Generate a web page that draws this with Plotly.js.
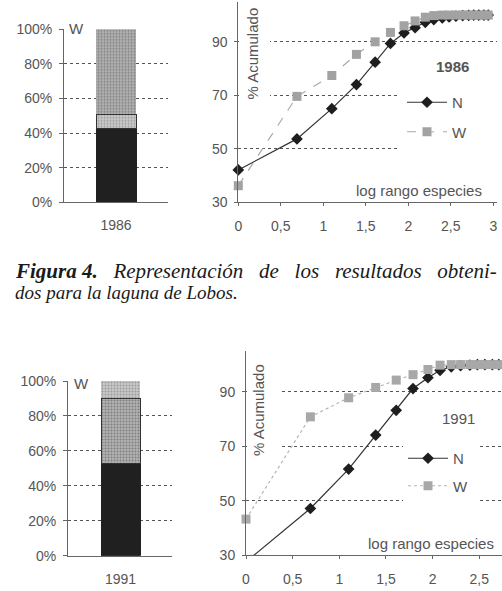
<!DOCTYPE html>
<html><head><meta charset="utf-8">
<script src="https://cdn.plot.ly/plotly-3.0.1.min.js"></script>
<style>html,body{margin:0;padding:0;background:#fff}#g{width:502px;height:591px}</style>
</head><body><div id="g"></div>
<script>
// ---- data ----
const barCat1986 = ['1986'];
const barCat1991 = ['1991'];
const segN1986 = [42.8];
const segMid1986 = [8.1];
const segW1986 = [49.1];
const segN1991 = [52.5];
const segMid1991 = [37.6];
const segW1991 = [9.9];

const logRank1986 = [0, 0.69, 1.10, 1.39, 1.61, 1.79, 1.95, 2.08, 2.20, 2.30, 2.40, 2.48, 2.56, 2.64, 2.71, 2.77, 2.83, 2.89, 2.94];
const cumN1986 = [42.1, 53.7, 65.0, 74.0, 82.4, 89.4, 93.3, 95.3, 97.3, 98.3, 98.9, 99.3, 99.6, 99.8, 99.9, 100, 100, 100, 100];
const cumW1986 = [36.2, 69.6, 77.4, 85.3, 90.0, 93.5, 96.0, 97.8, 99.2, 99.8, 100, 100, 100, 100, 100, 100, 100, 100, 100];

const logRank1991 = [0, 0.69, 1.10, 1.39, 1.61, 1.79, 1.95, 2.08, 2.20, 2.30, 2.40, 2.48, 2.56, 2.64, 2.71, 2.77];
const cumN1991 = [27.5, 47.1, 61.6, 74.1, 83.2, 91.2, 95.2, 97.9, 99.2, 99.6, 99.8, 100, 100, 100, 100, 100];
const cumW1991 = [43.2, 80.8, 87.8, 91.6, 94.3, 96.3, 98.2, 99.8, 100, 100, 100, 100, 100, 100, 100, 100];

const barTicks = [0, 20, 40, 60, 80, 100];
const barTickText = ['0%', '20%', '40%', '60%', '80%', '100%'];
const lineYTicks = [30, 50, 70, 90];
const lineXTicks = [0, 0.5, 1, 1.5, 2, 2.5, 3];
const lineXTickText = ['0', '0,5', '1', '1,5', '2', '2,5', '3'];

// ---- helpers (pixel -> paper) ----
const W = 502, H = 591;
const px = v => v / W;
const py = v => 1 - v / H;

const TXT = '#555';
const FONT = 'Liberation Sans, Arial, sans-serif';
const AX = '#666';
const GRID = '#555';

const traces = [
  // bar 1986
  {type:'bar', x:barCat1986, y:segN1986, xaxis:'x', yaxis:'y', width:1, showlegend:false,
   marker:{color:'#202020', line:{color:'#202020', width:1}}, name:'N'},
  {type:'bar', x:barCat1986, y:segMid1986, xaxis:'x', yaxis:'y', width:1, showlegend:false,
   marker:{color:'#c6c6c6', line:{color:'#333', width:1}, pattern:{shape:'.', fgcolor:'#9a9a9a', bgcolor:'#cacaca', size:3, solidity:0.3}}, name:'N+W'},
  {type:'bar', x:barCat1986, y:segW1986, xaxis:'x', yaxis:'y', width:1, showlegend:false,
   marker:{color:'#a8a8a8', line:{color:'#a8a8a8', width:0}, pattern:{shape:'.', fgcolor:'#808080', bgcolor:'#b2b2b2', size:3, solidity:0.35}}, name:'W'},
  // line 1986
  {type:'scatter', mode:'lines+markers', x:logRank1986, y:cumN1986, xaxis:'x2', yaxis:'y2', name:'N',
   legend:'legend', legendgroup:'n86', cliponaxis:false,
   line:{color:'#333', width:1.2}, marker:{symbol:'diamond', size:9, color:'#1e1e1e'}},
  {type:'scatter', mode:'lines+markers', x:logRank1986, y:cumW1986, xaxis:'x2', yaxis:'y2', name:'W',
   legend:'legend', legendgroup:'w86', cliponaxis:false,
   line:{color:'#aaa', width:1.2, dash:'dash'}, marker:{symbol:'square', size:9, color:'#a2a2a2'}},
  // bar 1991
  {type:'bar', x:barCat1991, y:segN1991, xaxis:'x3', yaxis:'y3', width:1, showlegend:false,
   marker:{color:'#202020', line:{color:'#202020', width:1}}, name:'N'},
  {type:'bar', x:barCat1991, y:segMid1991, xaxis:'x3', yaxis:'y3', width:1, showlegend:false,
   marker:{color:'#acacac', line:{color:'#333', width:1}, pattern:{shape:'.', fgcolor:'#7e7e7e', bgcolor:'#b2b2b2', size:3, solidity:0.35}}, name:'N+W'},
  {type:'bar', x:barCat1991, y:segW1991, xaxis:'x3', yaxis:'y3', width:1, showlegend:false,
   marker:{color:'#c4c4c4', line:{color:'#c4c4c4', width:0}, pattern:{shape:'.', fgcolor:'#9a9a9a', bgcolor:'#c8c8c8', size:3, solidity:0.3}}, name:'W'},
  // line 1991
  {type:'scatter', mode:'lines+markers', x:logRank1991, y:cumN1991, xaxis:'x4', yaxis:'y4', name:'N',
   legend:'legend2', legendgroup:'n91', cliponaxis:true,
   line:{color:'#333', width:1.2}, marker:{symbol:'diamond', size:9, color:'#1e1e1e'}},
  {type:'scatter', mode:'lines+markers', x:logRank1991, y:cumW1991, xaxis:'x4', yaxis:'y4', name:'W',
   legend:'legend2', legendgroup:'w91', cliponaxis:false,
   line:{color:'#b4b4b4', width:1.2, dash:'dot'}, marker:{symbol:'square', size:9, color:'#a8a8a8'}}
];

const tickFont = {family:FONT, size:14, color:TXT};

function barX(domain, range, anchor){
  return {type:'category', anchor, domain, range, showline:true, linecolor:AX, linewidth:1, ticks:'', showgrid:false, zeroline:false,
    tickfont:tickFont, ticklabelstandoff:10, fixedrange:true};
}
function barY(domain, anchor){
  return {anchor, domain, range:[0,100], tickvals:barTicks, ticktext:barTickText, showline:true, linecolor:AX, linewidth:1,
    ticks:'outside', ticklen:4, tickcolor:AX, showgrid:true, gridcolor:GRID, griddash:'3px,3px', gridwidth:1,
    zeroline:false, tickfont:tickFont, ticklabelstandoff:4, fixedrange:true};
}
function lineX(domain, range, anchor){
  return {anchor, domain, range, tickvals:lineXTicks, ticktext:lineXTickText, showline:true, linecolor:AX, linewidth:1,
    ticks:'outside', ticklen:3, tickcolor:AX, showgrid:false, zeroline:false, tickfont:tickFont, ticklabelstandoff:8, fixedrange:true};
}
function lineY(domain, anchor){
  return {anchor, domain, range:[30,105], tickvals:lineYTicks, showline:true, linecolor:AX, linewidth:1,
    ticks:'outside', ticklen:3, tickcolor:AX, showgrid:true, gridcolor:GRID, griddash:'3px,3px', gridwidth:1,
    zeroline:false, tickfont:tickFont, ticklabelstandoff:4, fixedrange:true};
}

const white = (x0,x1,y0,y1) => ({type:'rect', xref:'paper', yref:'paper', x0:px(x0), x1:px(x1), y0:py(y1), y1:py(y0),
  fillcolor:'#fff', line:{width:0}, layer:'above'});

const ann = (text, x, y, opts) => Object.assign({text, xref:'paper', yref:'paper', x:px(x), y:py(y), showarrow:false,
  xanchor:'center', yanchor:'middle', font:{family:FONT, size:15, color:TXT}}, opts || {});

const SERIF = 'Liberation Serif, Times New Roman, serif';
const sp = '\u00a0\u00a0';

const legendBase = {xanchor:'left', yanchor:'top', bgcolor:'rgba(0,0,0,0)', borderwidth:0,
  font:{family:FONT, size:15, color:TXT}, itemwidth:40, traceorder:'grouped'};

const layout = {
  width:W, height:H, margin:{l:0,r:0,t:0,b:0}, paper_bgcolor:'#fff', plot_bgcolor:'rgba(0,0,0,0)',
  barmode:'stack', bargap:0,
  xaxis: barX([px(64), px(168)], [-1.3, 1.3], 'y'),
  yaxis: barY([py(202.3), py(29.3)], 'x'),
  xaxis2: lineX([px(238.3), px(497)], [0, (497-238.3)/85], 'y2'),
  yaxis2: lineY([py(202.3), py(202.3-75*2.675)], 'x2'),
  xaxis3: barX([px(68), px(172)], [-1.346, 1.32], 'y3'),
  yaxis3: barY([py(555.7), py(381)], 'x3'),
  xaxis4: lineX([px(246), 1], [0, (502-246)/93.3], 'y4'),
  yaxis4: lineY([py(555), py(555-75*2.72)], 'x4'),
  legend: Object.assign({}, legendBase, {x:px(402), y:py(86), tracegroupgap:7}),
  legend2: Object.assign({}, legendBase, {x:px(403), y:py(442), tracegroupgap:5}),
  shapes:[
    white(239, 270, 0, 122),
    white(397, 502, 80, 160),
    white(247, 262, 340, 470),
    white(247, 280, 340, 455),
    white(403, 480, 430, 510)
  ],
  annotations:[
    ann('% Acumulado', 251.5, 54, {textangle:-90}),
    ann('% Acumulado', 258, 410, {textangle:-90}),
    ann('log rango especies', 484, 201, {xanchor:'right', yanchor:'bottom'}),
    ann('log rango especies', 496, 554, {xanchor:'right', yanchor:'bottom'}),
    ann('<b>1986</b>', 452, 67),
    ann('1991', 458, 418),
    ann('W', 76.5, 29, {bgcolor:'#fff'}),
    ann('W', 81.5, 383, {bgcolor:'#fff'}),
    ann('<b><i>Figura' + '\u00a0' + '4.</i></b><i>' + ' ' + sp + 'Representación' + sp + ' de' + sp + ' los' + sp + ' resultados' + sp + ' obteni-</i>', 13, 271,
      {xanchor:'left', font:{family:SERIF, size:21, color:'#1a1a1a'}}),
    ann('<i>dos para la laguna de Lobos.</i>', 13, 292,
      {xanchor:'left', font:{family:SERIF, size:19, color:'#1a1a1a'}})
  ]
};

Plotly.newPlot('g', traces, layout, {staticPlot:true, displayModeBar:false});
</script>
</body></html>
